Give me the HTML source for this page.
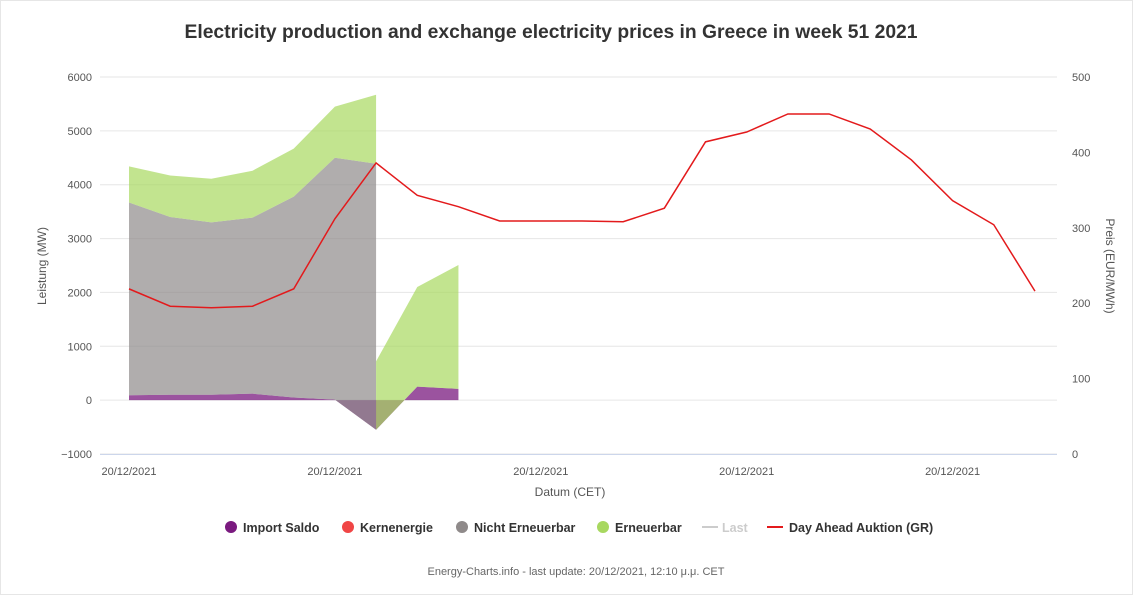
<!DOCTYPE html>
<html><head><meta charset="utf-8"><style>
body{margin:0;background:#fff;font-family:"Liberation Sans",sans-serif;}
svg text{font-family:"Liberation Sans",sans-serif;}
</style></head><body>
<svg id="chart" width="1133" height="595">
<rect x="0.5" y="0.5" width="1132" height="594" fill="#fff" stroke="#e6e6e6"/>
<text x="551" y="38" text-anchor="middle" font-size="19.3" font-weight="bold" fill="#333">Electricity production and exchange electricity prices in Greece in week 51 2021</text>
<g id="grid"></g><g id="areas"></g><g id="lines"></g><g id="axes"></g>
<text transform="translate(46,266) rotate(-90)" text-anchor="middle" font-size="12" fill="#555">Leistung (MW)</text>
<text transform="translate(1106,266) rotate(90)" text-anchor="middle" font-size="12" fill="#555">Preis (EUR/MWh)</text>
<text x="570" y="496" text-anchor="middle" font-size="12" fill="#555">Datum (CET)</text>
<g font-size="12.5" font-weight="bold" fill="#333">
<g><circle cx="231" cy="527" r="6" fill="#7a1a7f"/><text x="243" y="532">Import Saldo</text></g>
<g><circle cx="348" cy="527" r="6" fill="#f04545"/><text x="360" y="532">Kernenergie</text></g>
<g><circle cx="462" cy="527" r="6" fill="#8f8a8a"/><text x="474" y="532">Nicht Erneuerbar</text></g>
<g><circle cx="603" cy="527" r="6" fill="#a8d860"/><text x="615" y="532">Erneuerbar</text></g>
<g><line x1="702" y1="527" x2="718" y2="527" stroke="#ccc" stroke-width="2"/><text x="722" y="532" fill="#ccc">Last</text></g>
<g><line x1="767" y1="527" x2="783" y2="527" stroke="#e31a1c" stroke-width="2"/><text x="789" y="532">Day Ahead Auktion (GR)</text></g>
</g>
<text x="576" y="575" text-anchor="middle" font-size="11" fill="#666">Energy-Charts.info - last update: 20/12/2021, 12:10 μ.μ. CET</text>
</svg>
<script>
const leftTicks=[6000,5000,4000,3000,2000,1000,0,-1000];
const rightTicks=[500,400,300,200,100,0];
const xTickHours=[0,5,10,15,20];
const xTickLabels=["20/12/2021","20/12/2021","20/12/2021","20/12/2021","20/12/2021"];
const areaHours=[0,1,2,3,4,5,6,6,7,8];
const importSaldo=[90,100,100,120,50,10,-550,-550,250,210];
const nichtErneuerbar=[3580,3300,3200,3270,3730,4490,4940,null,null,null];
const erneuerbar=[670,770,810,870,890,950,1280,1270,1850,2300];
const priceHours=[0,1,2,3,4,5,6,7,8,9,10,11,12,13,14,15,16,17,18,19,20,21,22];
const prices=[219,196,194,196,219,312,386,343,328,309,309,309,308,326,414,427,451,451,431,390,336,304,216];
const X0=100,X1=1057;
const x=h=>129+h*41.18;
const yL=v=>454-(v+1000)*377/7000;
const yR=v=>454-v*377/500;
const NS="http://www.w3.org/2000/svg";
function mk(parent,tag,attrs){const e=document.createElementNS(NS,tag);for(const k in attrs)e.setAttribute(k,attrs[k]);document.getElementById(parent).appendChild(e);return e;}
leftTicks.forEach(v=>{
 const l=mk('grid','line',{x1:X0,x2:X1,y1:yL(v),y2:yL(v),stroke:'#e6e6e6'});
 
 
 const t=mk('axes','text',{x:92,y:yL(v)+4,'text-anchor':'end','font-size':11,fill:'#555'});t.textContent=String(v).replace('-','\u2212');
 
 
});
rightTicks.forEach(v=>{
 const t=mk('axes','text',{x:1072,y:yR(v)+4,'font-size':11,fill:'#555'});t.textContent=v;
 
 
});
const ax=mk('axes','line',{x1:X0,x2:X1,y1:454.5,y2:454.5,stroke:'#ccd6eb'});


xTickHours.forEach((h,i)=>{
 const t=mk('axes','text',{x:x(h),y:475,'text-anchor':'middle','font-size':11,fill:'#555'});t.textContent=xTickLabels[i];
 
 
});
function poly(idx,lo,hi,fill,name){
 const top=idx.map(i=>x(areaHours[i])+','+yL(hi[i])).join(' ');
 const bot=idx.slice().reverse().map(i=>x(areaHours[i])+','+yL(lo[i])).join(' ');
 const p=mk('areas','polygon',{points:top+' '+bot,fill:fill});
 
 
}
const zero=importSaldo.map(()=>0);
const grayBase=importSaldo.slice();
const grayTop=importSaldo.map((v,i)=>nichtErneuerbar[i]==null?v:v+nichtErneuerbar[i]);
const greenTop=grayTop.map((v,i)=>v+erneuerbar[i]);
const seg1=[0,1,2,3,4,5,6],seg2=[7,8,9];
poly([0,1,2,3,4,5,6,7,8,9],zero,importSaldo,'rgba(122,26,127,0.75)','area-import-saldo');
poly(seg1,grayBase,grayTop,'rgba(143,138,138,0.7)','area-nicht-erneuerbar');
poly(seg1,grayTop,greenTop,'rgba(168,216,96,0.7)','area-erneuerbar');
poly(seg2,grayTop,greenTop,'rgba(168,216,96,0.7)','area-erneuerbar-2');
const pl=mk('lines','polyline',{points:priceHours.map((h,i)=>x(h)+','+yR(prices[i])).join(' '),fill:'none',stroke:'#e31a1c','stroke-width':1.5});


</script>
</body></html>
